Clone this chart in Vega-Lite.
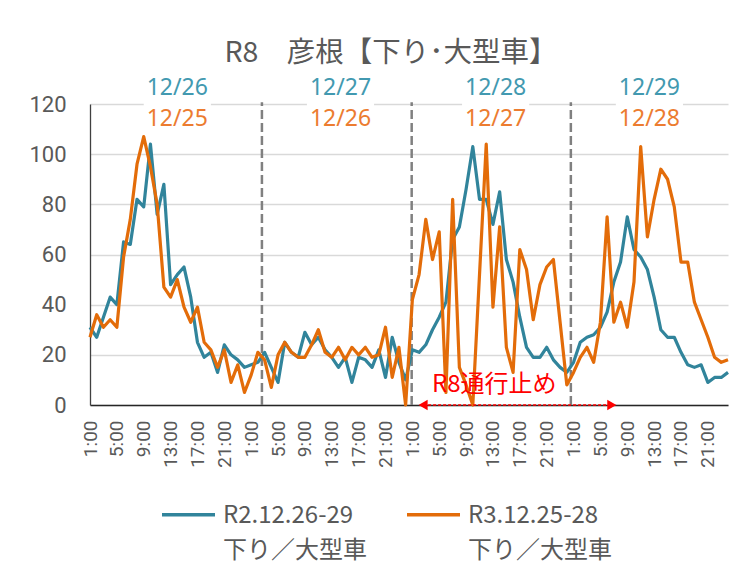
{
  "$schema": "https://vega.github.io/schema/vega-lite/v6.json",
  "width": 638,
  "height": 301,
  "autosize": "none",
  "padding": {"left": 90, "top": 104, "right": 24, "bottom": 170},
  "background": "white",
  "config": {
    "view": {"stroke": null},
    "axis": {"labelOverlap": false, "title": null, "ticks": false, "labelColor": "#595959", "labelFont": "Roboto"},
    "axisX": {"labelOverlap": false, "labelAngle": -90, "labelFontSize": 19, "labelPadding": 15, "labelFlush": false, "labelBound": false, "grid": false, "domainColor": "#262626", "domainWidth": 1.3},
    "axisY": {"labelFontSize": 22, "labelPadding": 24, "gridColor": "#d9d9d9", "gridWidth": 1.3, "domainColor": "#404040", "domainWidth": 1.3}
  },
  "title": {
    "text": "R8　彦根【下り･大型車】",
    "font": "Noto Sans CJK JP",
    "fontSize": 28.5,
    "fontWeight": "normal",
    "color": "#595959",
    "anchor": "middle",
    "dx": -18,
    "offset": 6
  },
  "datasets": {
    "traffic": [
      {"h":0,"R2":31,"R3":27},{"h":1,"R2":27,"R3":36},{"h":2,"R2":35,"R3":31},{"h":3,"R2":43,"R3":34},{"h":4,"R2":40,"R3":31},{"h":5,"R2":65,"R3":59},{"h":6,"R2":64,"R3":74},{"h":7,"R2":82,"R3":96},{"h":8,"R2":79,"R3":107},{"h":9,"R2":104,"R3":95},{"h":10,"R2":76,"R3":80},{"h":11,"R2":88,"R3":47},
      {"h":12,"R2":48,"R3":43},{"h":13,"R2":52,"R3":50},{"h":14,"R2":55,"R3":39},{"h":15,"R2":43,"R3":33},{"h":16,"R2":25,"R3":39},{"h":17,"R2":19,"R3":25},{"h":18,"R2":21,"R3":22},{"h":19,"R2":13,"R3":15},{"h":20,"R2":24,"R3":22},{"h":21,"R2":20,"R3":9},{"h":22,"R2":18,"R3":16},{"h":23,"R2":15,"R3":5},
      {"h":24,"R2":16,"R3":12},{"h":25,"R2":17,"R3":21},{"h":26,"R2":21,"R3":18},{"h":27,"R2":15,"R3":7},{"h":28,"R2":9,"R3":20},{"h":29,"R2":25,"R3":25},{"h":30,"R2":21,"R3":21},{"h":31,"R2":19,"R3":19},{"h":32,"R2":29,"R3":19},{"h":33,"R2":24,"R3":24},{"h":34,"R2":27,"R3":30},{"h":35,"R2":22,"R3":21},
      {"h":36,"R2":19,"R3":19},{"h":37,"R2":15,"R3":23},{"h":38,"R2":19,"R3":18},{"h":39,"R2":9,"R3":23},{"h":40,"R2":19,"R3":20},{"h":41,"R2":18,"R3":23},{"h":42,"R2":15,"R3":19},{"h":43,"R2":22,"R3":20},{"h":44,"R2":11,"R3":31},{"h":45,"R2":27,"R3":11},{"h":46,"R2":17,"R3":23},{"h":47,"R2":10,"R3":0},
      {"h":48,"R2":22,"R3":42},{"h":49,"R2":21,"R3":52},{"h":50,"R2":24,"R3":74},{"h":51,"R2":30,"R3":58},{"h":52,"R2":35,"R3":69},{"h":53,"R2":41,"R3":5},{"h":54,"R2":66,"R3":82},{"h":55,"R2":71,"R3":15},{"h":56,"R2":86,"R3":8},{"h":57,"R2":103,"R3":0},{"h":58,"R2":82,"R3":52},{"h":59,"R2":82,"R3":104},
      {"h":60,"R2":72,"R3":39},{"h":61,"R2":85,"R3":71},{"h":62,"R2":58,"R3":23},{"h":63,"R2":49,"R3":13},{"h":64,"R2":35,"R3":62},{"h":65,"R2":23,"R3":54},{"h":66,"R2":19,"R3":34},{"h":67,"R2":19,"R3":48},{"h":68,"R2":23,"R3":55},{"h":69,"R2":18,"R3":58},{"h":70,"R2":15,"R3":33},{"h":71,"R2":13,"R3":8},
      {"h":72,"R2":17,"R3":13},{"h":73,"R2":25,"R3":19},{"h":74,"R2":27,"R3":23},{"h":75,"R2":28,"R3":17},{"h":76,"R2":31,"R3":33},{"h":77,"R2":37,"R3":75},{"h":78,"R2":49,"R3":33},{"h":79,"R2":57,"R3":41},{"h":80,"R2":75,"R3":31},{"h":81,"R2":62,"R3":49},{"h":82,"R2":59,"R3":103},{"h":83,"R2":54,"R3":67},
      {"h":84,"R2":43,"R3":82},{"h":85,"R2":30,"R3":94},{"h":86,"R2":27,"R3":90},{"h":87,"R2":27,"R3":79},{"h":88,"R2":21,"R3":57},{"h":89,"R2":16,"R3":57},{"h":90,"R2":15,"R3":41},{"h":91,"R2":16,"R3":34},{"h":92,"R2":9,"R3":27},{"h":93,"R2":11,"R3":19},{"h":94,"R2":11,"R3":17},{"h":95,"R2":13,"R3":18}
    ],
    "dayLines": [{"x": 25.6}, {"x": 47.9}, {"x": 71.6}],
    "dateLabels": [
      {"x": 13.0, "y": 126.5, "series": "R2", "t": "12/26"},
      {"x": 37.3, "y": 126.5, "series": "R2", "t": "12/27"},
      {"x": 60.4, "y": 126.5, "series": "R2", "t": "12/28"},
      {"x": 83.3, "y": 126.5, "series": "R2", "t": "12/29"},
      {"x": 13.0, "y": 114.2, "series": "R3", "t": "12/25"},
      {"x": 37.3, "y": 114.2, "series": "R3", "t": "12/26"},
      {"x": 60.4, "y": 114.2, "series": "R3", "t": "12/27"},
      {"x": 83.3, "y": 114.2, "series": "R3", "t": "12/28"}
    ],
    "labelBoxes": [
      {"x1": 8.0, "x2": 18.0, "y1": 110, "y2": 132},
      {"x1": 32.3, "x2": 42.3, "y1": 110, "y2": 132},
      {"x1": 55.4, "x2": 65.4, "y1": 110, "y2": 132},
      {"x1": 78.3, "x2": 88.3, "y1": 110, "y2": 132}
    ],
    "closure": [{"x1": 49.6, "x2": 77.7, "y": 0, "t": "R8通行止め", "tx": 60.2, "ty": 8}]
  },
  "layer": [
    {
      "data": {"name": "labelBoxes"},
      "mark": {"type": "rect", "color": "white"},
      "encoding": {
        "x": {"field": "x1", "type": "quantitative", "scale": {"domain": [0, 95], "nice": false, "zero": false}},
        "x2": {"field": "x2"},
        "y": {"field": "y1", "type": "quantitative", "scale": {"domain": [0, 120], "nice": false}},
        "y2": {"field": "y2"}
      }
    },
    {
      "data": {"name": "dayLines"},
      "mark": {"type": "rule", "color": "#808080", "strokeWidth": 2.5, "strokeDash": [9, 4]},
      "encoding": {
        "x": {"field": "x", "type": "quantitative"},
        "y": {"datum": 0, "type": "quantitative"},
        "y2": {"datum": 120.7}
      }
    },
    {
      "data": {"name": "traffic"},
      "transform": [{"fold": ["R2", "R3"], "as": ["series", "value"]}],
      "mark": {"type": "line", "strokeWidth": 3.2, "strokeJoin": "round"},
      "encoding": {
        "x": {
          "field": "h",
          "type": "quantitative",
          "scale": {"domain": [0, 95], "nice": false, "zero": false},
          "axis": {
            "values": [0, 4, 8, 12, 16, 20, 24, 28, 32, 36, 40, 44, 48, 52, 56, 60, 64, 68, 72, 76, 80, 84, 88, 92],
            "tickCount": 40,
            "labelExpr": "(datum.value % 24 + 1) + ':00'"
          }
        },
        "y": {
          "field": "value",
          "type": "quantitative",
          "scale": {"domain": [0, 120], "nice": false},
          "axis": {"values": [0, 20, 40, 60, 80, 100, 120], "tickCount": 10}
        },
        "color": {
          "field": "series",
          "type": "nominal",
          "scale": {"domain": ["R2", "R3"], "range": ["#31849B", "#E36C09"]},
          "legend": {
            "title": null,
            "orient": "none",
            "legendX": 70,
            "legendY": 382,
            "direction": "horizontal",
            "symbolType": "stroke",
            "symbolSize": 2809,
            "symbolStrokeWidth": 3.5,
            "labelFont": "Noto Sans CJK JP",
            "labelFontSize": 24,
            "labelColor": "#595959",
            "labelLimit": 400,
            "labelOffset": 6,
            "labelBaseline": "top",
            "columnPadding": 33,
            "padding": 0,
            "labelExpr": "datum.label == 'R2' ? ['R2.12.26-29', '下り／大型車'] : ['R3.12.25-28', '下り／大型車']",
            "encode": {"labels": {"update": {"lineHeight": {"value": 35}, "dy": {"value": -11}}}}
          }
        }
      }
    },
    {
      "data": {"name": "closure"},
      "mark": {"type": "rule", "color": "#FF0000", "strokeWidth": 1.5, "strokeDash": [3, 2]},
      "encoding": {
        "x": {"field": "x1", "type": "quantitative"},
        "x2": {"field": "x2"},
        "y": {"field": "y", "type": "quantitative"}
      }
    },
    {
      "data": {"name": "closure"},
      "mark": {"type": "point", "shape": "triangle-left", "filled": true, "color": "#FF0000", "size": 110, "opacity": 1},
      "encoding": {
        "x": {"field": "x1", "type": "quantitative"},
        "y": {"field": "y", "type": "quantitative"}
      }
    },
    {
      "data": {"name": "closure"},
      "mark": {"type": "point", "shape": "triangle-right", "filled": true, "color": "#FF0000", "size": 110, "opacity": 1},
      "encoding": {
        "x": {"field": "x2", "type": "quantitative"},
        "y": {"field": "y", "type": "quantitative"}
      }
    },
    {
      "data": {"name": "closure"},
      "mark": {"type": "text", "color": "#FF0000", "font": "Noto Sans CJK JP", "fontSize": 24, "baseline": "middle", "align": "center"},
      "encoding": {
        "x": {"field": "tx", "type": "quantitative"},
        "y": {"field": "ty", "type": "quantitative"},
        "text": {"field": "t"}
      }
    },
    {
      "data": {"name": "dateLabels"},
      "transform": [{"filter": "datum.series == 'R2'"}],
      "mark": {"type": "text", "color": "#4299B0", "font": "Noto Sans", "fontSize": 23, "baseline": "middle", "align": "center"},
      "encoding": {
        "x": {"field": "x", "type": "quantitative"},
        "y": {"field": "y", "type": "quantitative"},
        "text": {"field": "t"}
      }
    },
    {
      "data": {"name": "dateLabels"},
      "transform": [{"filter": "datum.series == 'R3'"}],
      "mark": {"type": "text", "color": "#EC7C30", "font": "Noto Sans", "fontSize": 23, "baseline": "middle", "align": "center"},
      "encoding": {
        "x": {"field": "x", "type": "quantitative"},
        "y": {"field": "y", "type": "quantitative"},
        "text": {"field": "t"}
      }
    }
  ]
}
